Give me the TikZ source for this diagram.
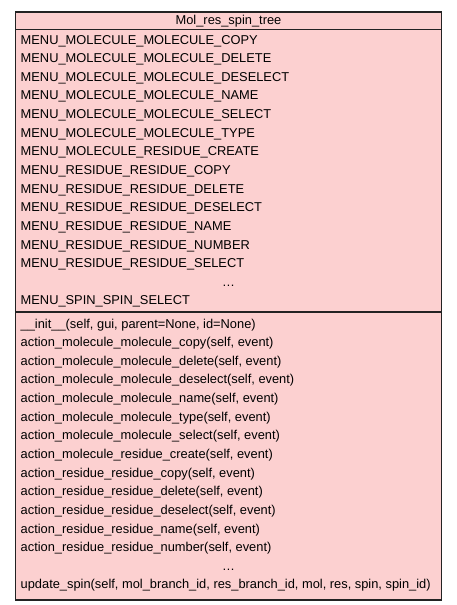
\documentclass[tikz,border=0pt]{standalone}
\usepackage{fontspec}
\setmainfont{Liberation Sans}
\definecolor{boxfill}{RGB}{252,208,208}
\definecolor{boxline}{RGB}{35,35,35}
\begin{document}
\begin{tikzpicture}[x=1pt,y=-1pt,
  txt/.style={anchor=base west,inner sep=0pt,font=\fontsize{12.85}{15}\selectfont},
  ctxt/.style={anchor=base,inner sep=0pt,font=\fontsize{12.85}{15}\selectfont}]
\useasboundingbox (0,0) rectangle (456,605);
\fill[white] (0,0) rectangle (456,605);
\draw[boxline,fill=boxfill,line width=1.5pt] (15.5,11.8) rectangle (441.3,600);
\draw[boxline,line width=1.3pt] (15.5,29.3) -- (441.3,29.3);
\draw[boxline,line width=1.8pt] (15.5,312) -- (441.3,312);
\node[ctxt] (title) at (228.5,24.6) {Mol\_res\_spin\_tree};
\foreach \t [count=\i from 0] in {
  MENU\_MOLECULE\_MOLECULE\_COPY,
  MENU\_MOLECULE\_MOLECULE\_DELETE,
  MENU\_MOLECULE\_MOLECULE\_DESELECT,
  MENU\_MOLECULE\_MOLECULE\_NAME,
  MENU\_MOLECULE\_MOLECULE\_SELECT,
  MENU\_MOLECULE\_MOLECULE\_TYPE,
  MENU\_MOLECULE\_RESIDUE\_CREATE,
  MENU\_RESIDUE\_RESIDUE\_COPY,
  MENU\_RESIDUE\_RESIDUE\_DELETE,
  MENU\_RESIDUE\_RESIDUE\_DESELECT,
  MENU\_RESIDUE\_RESIDUE\_NAME,
  MENU\_RESIDUE\_RESIDUE\_NUMBER,
  MENU\_RESIDUE\_RESIDUE\_SELECT}
  \node[txt] (a\i) at (20.5,{44+18.64*\i}) {\t};
\node[ctxt] (adots) at (228.5,{44+18.64*13}) {\ldots};
\node[txt] (alast) at (20.5,{44+18.64*14}) {MENU\_SPIN\_SPIN\_SELECT};
\foreach \t [count=\i from 0] in {
  \_\_init\_\_(self{,} gui{,} parent=None{,} id=None),
  action\_molecule\_molecule\_copy(self{,} event),
  action\_molecule\_molecule\_delete(self{,} event),
  action\_molecule\_molecule\_deselect(self{,} event),
  action\_molecule\_molecule\_name(self{,} event),
  action\_molecule\_molecule\_type(self{,} event),
  action\_molecule\_molecule\_select(self{,} event),
  action\_molecule\_residue\_create(self{,} event),
  action\_residue\_residue\_copy(self{,} event),
  action\_residue\_residue\_delete(self{,} event),
  action\_residue\_residue\_deselect(self{,} event),
  action\_residue\_residue\_name(self{,} event),
  action\_residue\_residue\_number(self{,} event)}
  \node[txt] (m\i) at (20.5,{328+18.64*\i}) {\t};
\node[ctxt] (mdots) at (228.5,{328+18.64*13}) {\ldots};
\node[txt] (mlast) at (20.5,{328+18.64*14}) {update\_spin(self, mol\_branch\_id, res\_branch\_id, mol, res, spin, spin\_id)};
\end{tikzpicture}
\end{document}
